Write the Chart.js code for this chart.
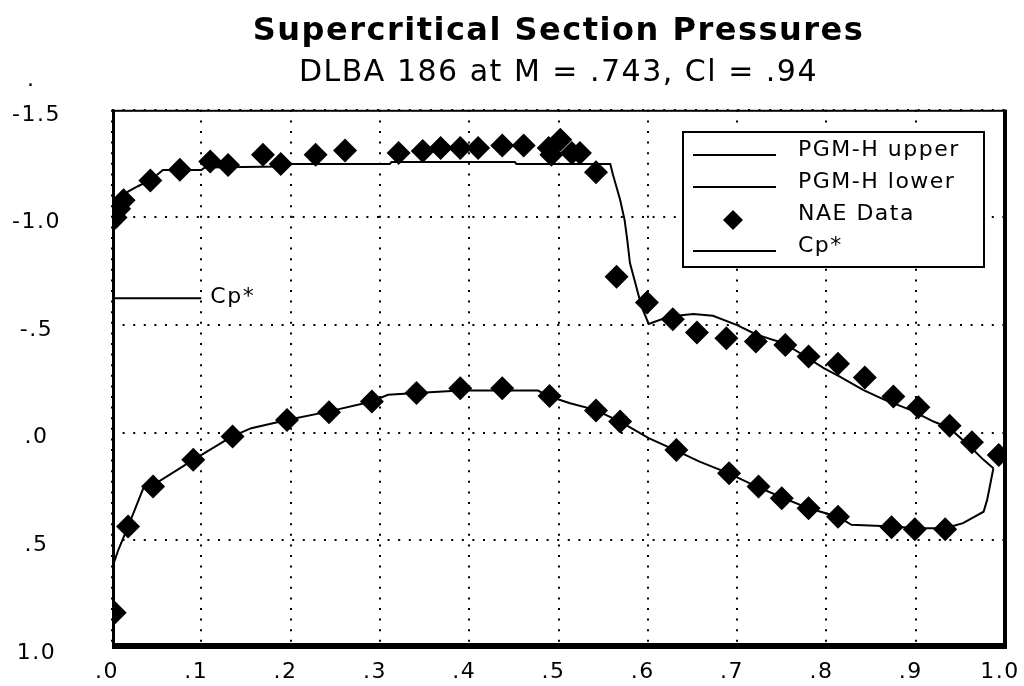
<!DOCTYPE html>
<html>
<head>
<meta charset="utf-8">
<script src="https://cdn.jsdelivr.net/npm/chart.js@4.4.1/dist/chart.umd.min.js"></script>
<style>
html,body{margin:0;padding:0;background:#fff;}
canvas{display:block;}
</style>
</head>
<body>
<canvas id="c" width="1024" height="686"></canvas>
<script>
// ---- data ----
const titleText = 'Supercritical Section Pressures';
const subtitleText = 'DLBA 186 at M = .743, Cl = .94';
const seriesNames = ['PGM-H upper', 'PGM-H lower', 'NAE Data', 'Cp*'];

const xTickValues = [0, 0.1, 0.2, 0.3, 0.4, 0.5, 0.6, 0.7, 0.8, 0.9, 1.0];
const xTickLabels = ['.0', '.1', '.2', '.3', '.4', '.5', '.6', '.7', '.8', '.9', '1.0'];
const yTickValues = [-1.5, -1.0, -0.5, 0, 0.5, 1.0];
const yTickLabels = ['-1.5', '-1.0', '-.5', '.0', '.5', '1.0'];

const upperX = [0.000, 0.003, 0.009, 0.018, 0.029, 0.044, 0.057, 0.100, 0.104, 0.190, 0.196, 0.311, 0.313, 0.451, 0.453, 0.558, 0.561, 0.569, 0.574, 0.577, 0.580, 0.586, 0.593, 0.601, 0.624, 0.651, 0.673, 0.700, 0.722, 0.752, 0.774, 0.797, 0.815, 0.841, 0.864, 0.894, 0.920, 0.938, 0.961, 0.976, 0.987];
const upperCp = [-0.90, -1.02, -1.08, -1.12, -1.145, -1.175, -1.22, -1.22, -1.232, -1.237, -1.248, -1.248, -1.257, -1.257, -1.248, -1.248, -1.198, -1.082, -0.989, -0.896, -0.788, -0.695, -0.586, -0.505, -0.540, -0.552, -0.543, -0.500, -0.455, -0.416, -0.361, -0.300, -0.261, -0.199, -0.155, -0.106, -0.052, -0.021, 0.065, 0.126, 0.165];

const lowerX = [0.000, 0.007, 0.018, 0.035, 0.046, 0.091, 0.134, 0.156, 0.196, 0.242, 0.291, 0.309, 0.341, 0.390, 0.477, 0.490, 0.513, 0.541, 0.569, 0.601, 0.630, 0.658, 0.690, 0.722, 0.752, 0.780, 0.813, 0.828, 0.875, 0.901, 0.933, 0.953, 0.976, 0.980, 0.987];
const lowerCp = [0.63, 0.545, 0.436, 0.258, 0.243, 0.126, 0.018, -0.021, -0.059, -0.098, -0.145, -0.176, -0.184, -0.196, -0.196, -0.168, -0.137, -0.106, -0.052, 0.025, 0.080, 0.134, 0.188, 0.250, 0.304, 0.351, 0.390, 0.428, 0.436, 0.444, 0.444, 0.420, 0.367, 0.312, 0.165];

const naeUpperX = [0.004, 0.008, 0.013, 0.043, 0.076, 0.110, 0.130, 0.169, 0.189, 0.228, 0.261, 0.321, 0.348, 0.368, 0.390, 0.410, 0.437, 0.461, 0.489, 0.492, 0.502, 0.515, 0.524, 0.542, 0.565, 0.599, 0.628, 0.655, 0.688, 0.721, 0.754, 0.780, 0.813, 0.843, 0.875, 0.903, 0.938, 0.963, 0.993];
const naeUpperCp = [-1.00, -1.04, -1.08, -1.172, -1.221, -1.260, -1.244, -1.291, -1.248, -1.291, -1.311, -1.299, -1.309, -1.322, -1.322, -1.322, -1.334, -1.334, -1.322, -1.291, -1.361, -1.299, -1.299, -1.210, -0.725, -0.605, -0.527, -0.465, -0.439, -0.424, -0.408, -0.354, -0.320, -0.256, -0.168, -0.118, -0.032, 0.044, 0.103];

const naeLowerX = [0.003, 0.018, 0.046, 0.091, 0.135, 0.196, 0.243, 0.291, 0.341, 0.390, 0.437, 0.490, 0.542, 0.569, 0.632, 0.691, 0.724, 0.750, 0.780, 0.813, 0.873, 0.899, 0.933];
const naeLowerCp = [0.836, 0.436, 0.250, 0.126, 0.018, -0.059, -0.095, -0.145, -0.184, -0.207, -0.207, -0.171, -0.103, -0.052, 0.080, 0.188, 0.250, 0.304, 0.351, 0.390, 0.439, 0.448, 0.448];

const cpStarX = [0.0, 0.1];
const cpStarCp = [-0.625, -0.625];

// ---- helpers ----
const FONT = 'DejaVu Sans';
const SPACING = '1.5px';
const toPts = (xs, ys) => xs.map((x, i) => ({x: x, y: ys[i]}));

function makeMarker(kind) {
  const cv = document.createElement('canvas');
  cv.width = 94; cv.height = 44;
  const g = cv.getContext('2d');
  g.fillStyle = '#000';
  if (kind === 'diamond') {
    g.beginPath();
    g.moveTo(40, 18); g.lineTo(50, 28); g.lineTo(40, 38); g.lineTo(30, 28);
    g.closePath(); g.fill();
  } else {
    g.fillRect(0, 26, 83, 2);
  }
  return cv;
}
const lineMarker = makeMarker('line');
const diamondMarker = makeMarker('diamond');

const spacingPlugin = {
  id: 'spacing',
  beforeUpdate(chart) { chart.ctx.letterSpacing = SPACING; },
  beforeLayout(chart) { chart.ctx.letterSpacing = SPACING; },
  beforeDraw(chart) { chart.ctx.letterSpacing = SPACING; }
};

const legendPlacePlugin = {
  id: 'legendPlace',
  afterLayout(chart) {
    const lg = chart.legend;
    if (!lg) return;
    Object.assign(lg, {left: 683, top: 129, right: 985, bottom: 272, width: 302, height: 143});
    if (!lg.__boxed) {
      lg.__boxed = true;
      const base = Object.getPrototypeOf(lg).draw;
      lg.draw = function (area) {
        const c = this.ctx;
        c.save();
        c.fillStyle = '#fff';
        c.fillRect(682, 131, 303, 137);
        c.strokeStyle = '#000';
        c.lineWidth = 2;
        c.strokeRect(683, 132, 301, 135);
        c.restore();
        base.call(this, area);
      };
    }
  }
};

const framePlugin = {
  id: 'frame',
  afterDatasetsDraw(chart) {
    const {left, top, right, bottom} = chart.chartArea;
    const c = chart.ctx;
    c.save();
    c.fillStyle = '#000';
    c.fillRect(left, top, right - left + 2, 2);
    c.fillRect(left, top, 3, bottom - top);
    c.fillRect(right - 2, top, 4, bottom - top + 1);
    c.fillRect(left, bottom - 5, right - left + 2, 6);
    c.restore();
  },
  afterDraw(chart) {
    const c = chart.ctx;
    const xs = chart.scales.x, ys = chart.scales.y;
    c.save();
    c.letterSpacing = SPACING;
    c.font = '22px "' + FONT + '"';
    c.fillStyle = '#000';
    c.textBaseline = 'middle';
    c.textAlign = 'left';
    c.fillText('Cp*', xs.getPixelForValue(cpStarX[cpStarX.length - 1]) + 9, ys.getPixelForValue(cpStarCp[0]) - 1);
    c.fillText('.', 27, 80);
    c.restore();
  }
};

Chart.defaults.font.family = FONT;
Chart.defaults.color = '#000';

const gridCommon = {
  color: '#000',
  lineWidth: 2,
  drawTicks: false,
  z: -1
};

new Chart(document.getElementById('c'), {
  type: 'scatter',
  data: {
    datasets: [
      {label: seriesNames[0], data: toPts(upperX, upperCp), showLine: true, borderColor: '#000', borderWidth: 2, pointRadius: 0, tension: 0, fill: false},
      {label: seriesNames[1], data: toPts(lowerX, lowerCp), showLine: true, borderColor: '#000', borderWidth: 2, pointRadius: 0, tension: 0, fill: false},
      {label: seriesNames[2], data: toPts(naeUpperX, naeUpperCp).concat(toPts(naeLowerX, naeLowerCp)), showLine: false, pointStyle: 'rectRot', pointRadius: 12, pointHoverRadius: 12, backgroundColor: '#000', borderColor: '#000', borderWidth: 0},
      {label: seriesNames[3], data: toPts(cpStarX, cpStarCp), showLine: true, borderColor: '#000', borderWidth: 2, pointRadius: 0, tension: 0, fill: false}
    ]
  },
  options: {
    responsive: false,
    animation: false,
    events: [],
    layout: {padding: {left: 0, right: 0, top: 0, bottom: 0}},
    scales: {
      x: {
        type: 'linear',
        min: 0, max: 1,
        afterBuildTicks: (s) => { s.ticks = xTickValues.map(v => ({value: v})); },
        afterFit: (s) => { s.height = 38; s.paddingLeft = 0; s.paddingRight = 19; },
        ticks: {
          autoSkip: false, maxRotation: 0, minRotation: 0,
          padding: 11, labelOffset: -5, color: '#000',
          font: {family: FONT, size: 22},
          callback: (v, i) => xTickLabels[i]
        },
        grid: gridCommon,
        border: {display: false, dash: [2, 8.6]}
      },
      y: {
        type: 'linear',
        min: -1.5, max: 1.0,
        reverse: true,
        afterBuildTicks: (s) => { s.ticks = yTickValues.map(v => ({value: v})); },
        afterFit: (s) => { s.width = 112; s.paddingTop = 0; s.paddingBottom = 0; },
        ticks: {
          autoSkip: false, crossAlign: 'center',
          padding: 51, labelOffset: 5, color: '#000',
          font: {family: FONT, size: 22},
          callback: (v, i) => yTickLabels[i]
        },
        grid: gridCommon,
        border: {display: false, dash: [2, 8.6]}
      }
    },
    plugins: {
      tooltip: {enabled: false},
      title: {
        display: true, text: titleText, color: '#000', fullSize: false,
        font: {family: FONT, size: 32, weight: 'bold', lineHeight: 1.2},
        padding: {top: 12, bottom: 0}
      },
      subtitle: {
        display: true, text: subtitleText, color: '#000', fullSize: false,
        font: {family: FONT, size: 30, weight: 'normal', lineHeight: 1.2},
        padding: {top: 4.8, bottom: 18.6}
      },
      legend: {
        display: true,
        position: 'chartArea',
        align: 'start',
        labels: {
          usePointStyle: true,
          pointStyleWidth: 94,
          padding: 10,
          color: '#000',
          font: {family: FONT, size: 22},
          generateLabels: (chart) => chart.data.datasets.map((ds, i) => ({
            text: ds.label,
            pointStyle: i === 2 ? diamondMarker : lineMarker,
            fillStyle: '#000', strokeStyle: '#000', lineWidth: 0,
            fontColor: '#000', hidden: false, datasetIndex: i
          }))
        }
      }
    }
  },
  plugins: [spacingPlugin, legendPlacePlugin, framePlugin]
});
</script>
</body>
</html>
